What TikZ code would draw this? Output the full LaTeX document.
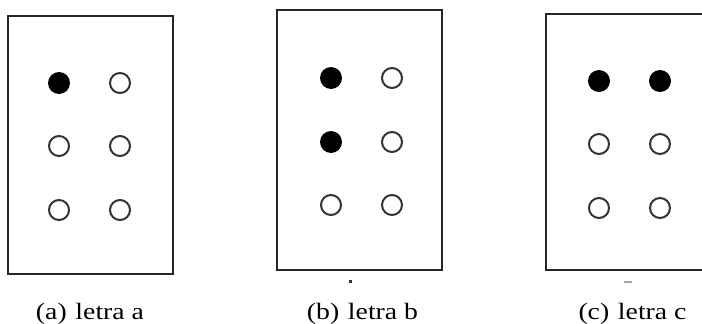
\documentclass[tikz,border=0pt]{standalone}
\usepackage{fontspec}
\setmainfont{Liberation Serif}
\usepackage{graphicx}
\begin{document}
\begin{tikzpicture}[x=1pt,y=-1pt,
  cellframe/.style={draw=black!85,line width=1.8pt},
  raised/.style={circle,fill=black,inner sep=0pt,minimum size=22pt},
  flat/.style={circle,draw=black!80,line width=2pt,fill=white,inner sep=0pt,minimum size=20pt},
  caption/.style={anchor=base,inner sep=0pt,font=\fontsize{23.5}{26}\selectfont}]
\useasboundingbox (0,0) rectangle (702,324);

% frames of the three braille cells
\draw[cellframe] (8,16) rectangle (173,274);
\draw[cellframe] (277,10) rectangle (442,270);
\draw[cellframe] (702,14) -- (546,14) -- (546,270) -- (702,270);

% letter a: dot 1
\node[raised] (a1) at (59,83) {};
\node[flat]   (a4) at (120,83) {};
\node[flat]   (a2) at (59,146) {};
\node[flat]   (a5) at (120,146) {};
\node[flat]   (a3) at (59,210) {};
\node[flat]   (a6) at (120,210) {};

% letter b: dots 1 and 2
\node[raised] (b1) at (331,78) {};
\node[flat]   (b4) at (392,78) {};
\node[raised] (b2) at (331,142) {};
\node[flat]   (b5) at (392,142) {};
\node[flat]   (b3) at (331,205) {};
\node[flat]   (b6) at (392,205) {};

% letter c: dots 1 and 4
\node[raised] (c1) at (599,81) {};
\node[raised] (c4) at (660,81) {};
\node[flat]   (c2) at (599,144) {};
\node[flat]   (c5) at (660,144) {};
\node[flat]   (c3) at (599,208) {};
\node[flat]   (c6) at (660,208) {};

% small specks under the frames
\fill[black!80] (348.5,279.5) rectangle (351.5,282.5);
\fill[black!35] (624,281) rectangle (632,283);

% sub-captions
\node[caption] (capa) at (90,319)    {\scalebox{1.18}[1]{(a)\hspace{7.4pt}letra a}};
\node[caption] (capb) at (362.5,319) {\scalebox{1.18}[1]{(b)\hspace{7.4pt}letra b}};
\node[caption] (capc) at (632.5,319) {\scalebox{1.18}[1]{(c)\hspace{7.4pt}letra c}};
\end{tikzpicture}
\end{document}
